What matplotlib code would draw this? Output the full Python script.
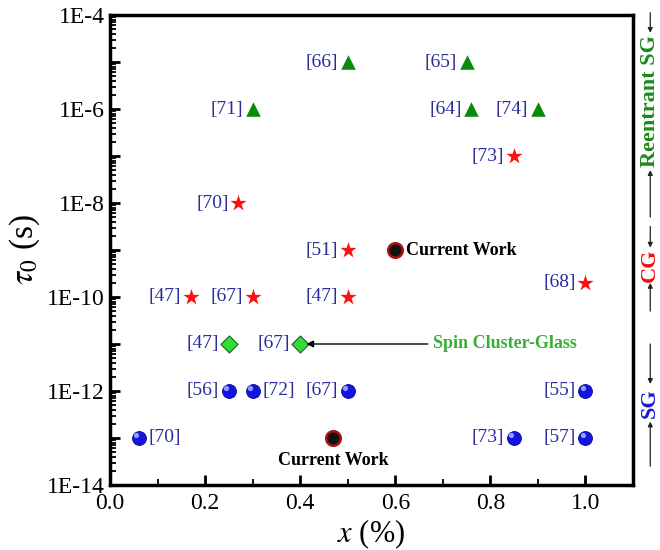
import matplotlib
matplotlib.use("Agg")
import matplotlib.pyplot as plt
from matplotlib.ticker import FixedLocator, FuncFormatter, LogLocator, NullFormatter, MultipleLocator
import numpy as np

plt.rcParams['font.family'] = ['Liberation Serif', 'DejaVu Serif']
plt.rcParams['mathtext.fontset'] = 'stix'

# Reentrant spin glass (triangles)
rsg_x = [0.5, 0.75, 0.3, 0.76, 0.9]
rsg_y = [1e-5, 1e-5, 1e-6, 1e-6, 1e-6]
rsg_ref = ['[66]', '[65]', '[71]', '[64]', '[74]']

# Cluster glass (stars)
cg_x = [0.85, 0.27, 0.5, 1.0, 0.17, 0.3, 0.5]
cg_y = [1e-7, 1e-8, 1e-9, 2e-10, 1e-10, 1e-10, 1e-10]
cg_ref = ['[73]', '[70]', '[51]', '[68]', '[47]', '[67]', '[47]']

# Spin cluster-glass (diamonds)
scg_x = [0.25, 0.4]
scg_y = [1e-11, 1e-11]
scg_ref = ['[47]', '[67]']

# Spin glass (spheres)
sg_x = [0.25, 0.3, 0.5, 1.0, 0.06, 0.85, 1.0]
sg_y = [1e-12, 1e-12, 1e-12, 1e-12, 1e-13, 1e-13, 1e-13]
sg_ref = ['[56]', '[72]', '[67]', '[55]', '[70]', '[73]', '[57]']
sg_side = ['left', 'right', 'left', 'left', 'right', 'left', 'left']

# This work
cw_x = [0.6, 0.47]
cw_y = [1e-9, 1e-13]

ref_color = '#2b2b9e'

fig = plt.figure(figsize=(6.6, 5.5), dpi=100)
ax = fig.add_axes([0.1667, 0.1182, 0.7924, 0.8545])
ax.set_yscale('log')
ax.set_xlim(0, 1.1)
ax.set_ylim(1e-14, 1e-4)

ax.scatter(rsg_x, rsg_y, marker='^', s=110, color='#0a8a0a', zorder=3, linewidths=0)
ax.scatter(cg_x, cg_y, marker='*', s=150, color='#ff1010', zorder=3, linewidths=0)
ax.scatter(scg_x, scg_y, marker='D', s=75, color='#33dd33', edgecolors='#1d5e2a', linewidths=0.8, zorder=3)
ax.scatter(sg_x, sg_y, marker='o', s=100, color='#1414e0', edgecolors='#0a0a90', linewidths=0.6, zorder=3)
# small highlight on the spheres
ax.scatter(sg_x, sg_y, marker='o', s=14, color='#8fa0ff', linewidths=0, zorder=4,
           transform=ax.transData + matplotlib.transforms.ScaledTranslation(-2/72, 2/72, fig.dpi_scale_trans))
ax.scatter(cw_x, cw_y, marker='o', s=110, color='#111111', edgecolors='#b01010', linewidths=1.8, zorder=3)

def ref_labels(xs, ys, refs, sides=None):
    for i, (x, y, r) in enumerate(zip(xs, ys, refs)):
        side = sides[i] if sides else 'left'
        dx = -7 if side == 'left' else 7
        ax.annotate(r, (x, y), xytext=(dx, 0), textcoords='offset points',
                    ha='right' if side == 'left' else 'left', va='center',
                    fontsize=14, color=ref_color)

ref_labels(rsg_x, rsg_y, rsg_ref)
ref_labels(cg_x, cg_y, cg_ref)
ref_labels(scg_x, scg_y, scg_ref)
ref_labels(sg_x, sg_y, sg_ref, sg_side)

ax.annotate('Current Work', (cw_x[0], cw_y[0]), xytext=(8, 0), textcoords='offset points',
            ha='left', va='center', fontsize=13, fontweight='bold', color='black')
ax.annotate('Current Work', (cw_x[1], cw_y[1]), xytext=(0, -10), textcoords='offset points',
            ha='center', va='top', fontsize=13, fontweight='bold', color='black')

ax.annotate('Spin Cluster-Glass', xy=(0.413, 1e-11), xytext=(0.68, 1e-11),
            ha='left', va='center', fontsize=13, fontweight='bold', color='#3aae3a',
            arrowprops=dict(arrowstyle='-|>', color='black', lw=1.0,
                            mutation_scale=10, shrinkA=2, shrinkB=0))

# ticks
ax.yaxis.set_major_locator(FixedLocator([10.0**k for k in range(-14, -3)]))
ax.yaxis.set_major_formatter(FuncFormatter(
    lambda v, p: ('1E%d' % round(np.log10(v))) if round(np.log10(v)) % 2 == 0 else ''))
ax.yaxis.set_minor_locator(LogLocator(base=10, subs=np.arange(2, 10), numticks=100))
ax.yaxis.set_minor_formatter(NullFormatter())
ax.xaxis.set_major_locator(MultipleLocator(0.2))
ax.xaxis.set_minor_locator(MultipleLocator(0.1))
ax.xaxis.set_major_formatter(FuncFormatter(lambda v, p: '%.1f' % v))
ax.tick_params(which='major', direction='in', length=7, width=2, labelsize=17,
               top=False, right=False)
ax.tick_params(which='minor', direction='in', length=4, width=1.3, top=False, right=False)
ax.tick_params(axis='x', pad=6)
for s in ax.spines.values():
    s.set_linewidth(2.5)

ax.set_xlabel(r'$x$ (%)', fontsize=22, labelpad=2)
ax.set_ylabel(r'$\tau_0$ (s)', fontsize=24, labelpad=4)

# phase ranges marked outside the right axis
def side_range(y_top, y_bot, text_top, text_bot, label, color):
    trans = matplotlib.transforms.blended_transform_factory(ax.transAxes, ax.transData)
    xa = 1.033
    ax.annotate('', xy=(xa, text_top), xytext=(xa, y_top), xycoords=trans, textcoords=trans,
                arrowprops=dict(arrowstyle='-|>', color='#222222', lw=0.9, mutation_scale=7,
                                shrinkA=0, shrinkB=0), annotation_clip=False)
    ax.annotate('', xy=(xa, text_bot), xytext=(xa, y_bot), xycoords=trans, textcoords=trans,
                arrowprops=dict(arrowstyle='-|>', color='#222222', lw=0.9, mutation_scale=7,
                                shrinkA=0, shrinkB=0), annotation_clip=False)
    ymid = 10 ** ((np.log10(text_top) + np.log10(text_bot)) / 2)
    ax.text(xa, ymid, label, transform=trans, rotation=90, ha='center', va='center',
            fontsize=16, fontweight='bold', color=color, clip_on=False)

side_range(10**-3.95, 10**-8.3, 10**-4.38, 10**-7.3, 'Reentrant SG', '#1a8a1a')
side_range(10**-8.5, 10**-10.3, 10**-8.95, 10**-9.7, 'CG', '#ee1111')
side_range(10**-11.0, 10**-13.6, 10**-11.85, 10**-12.65, 'SG', '#1a1ad0')

fig.savefig('out.png', dpi=100)
